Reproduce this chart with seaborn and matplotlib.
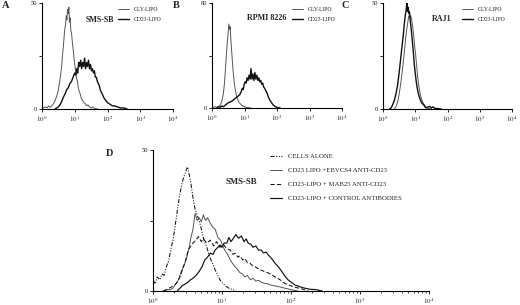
import numpy as np
import matplotlib
matplotlib.use("Agg")
import matplotlib.pyplot as plt
import seaborn as sns

sns.set_style("ticks")
plt.rcParams["font.family"] = ["serif"]
plt.rcParams["font.serif"] = ["Liberation Serif", "DejaVu Serif"]
plt.rcParams["mathtext.fontset"] = "stix"

# ---------------- data (x in log10 fluorescence decades, y = cell counts) ----------------
a_gly_x = [0.0, 0.01, 0.05, 0.1, 0.15, 0.2, 0.25, 0.3, 0.35, 0.4, 0.45, 0.5, 0.55, 0.6, 0.63, 0.66, 0.69,
           0.72, 0.74, 0.76, 0.78, 0.8, 0.82, 0.84, 0.86, 0.88, 0.9, 0.93, 0.96, 0.99, 1.02, 1.05, 1.08,
           1.11, 1.14, 1.17, 1.2, 1.24, 1.28, 1.32, 1.36, 1.4, 1.45, 1.5, 1.55, 1.6, 1.7]
a_gly_y = [12, 1, 0.5, 1, 0.5, 1.5, 0.8, 1.5, 2.5, 4, 6, 9, 14, 20, 26, 31, 37,
           40, 44, 42, 47, 45, 48, 41, 43, 37, 36, 31, 27, 22, 19, 15, 13,
           10, 8, 7, 5, 4, 3, 2.5, 1.5, 2, 1, 0.5, 1, 0.3, 0]
a_cd23_x = [0.4, 0.45, 0.5, 0.55, 0.6, 0.65, 0.7, 0.75, 0.8, 0.85, 0.9, 0.95, 1.0, 1.03, 1.06, 1.09,
            1.12, 1.15, 1.18, 1.21, 1.24, 1.27, 1.3, 1.33, 1.36, 1.39, 1.42, 1.45, 1.48, 1.51, 1.54,
            1.57, 1.6, 1.63, 1.66, 1.69, 1.72, 1.75, 1.78, 1.81, 1.84, 1.87, 1.9, 1.95, 2.0, 2.05,
            2.1, 2.15, 2.2, 2.3, 2.4, 2.5, 2.6]
a_cd23_y = [0, 0.5, 1, 2, 3.5, 5.5, 7, 9, 10, 12, 13, 15, 17, 16, 19, 17,
            22, 20, 23, 19, 22, 20, 24, 19, 22, 20, 23, 19, 21, 18, 19,
            17, 18, 15, 15, 13, 12, 11, 9, 8, 7, 6, 5, 4, 3, 2.5,
            2, 1.5, 1.5, 1, 0.5, 0.5, 0]

b_gly_x = [0.0, 0.01, 0.05, 0.1, 0.15, 0.2, 0.25, 0.3, 0.35, 0.38, 0.41, 0.44, 0.47, 0.5, 0.52, 0.54,
           0.56, 0.58, 0.6, 0.62, 0.65, 0.68, 0.71, 0.74, 0.77, 0.8, 0.84, 0.88, 0.92, 0.96, 1.0,
           1.05, 1.1, 1.2]
b_gly_y = [15, 1, 0.5, 1, 0.5, 1, 2, 5, 11, 18, 28, 40, 50, 58, 64, 60,
           62, 52, 45, 38, 28, 20, 15, 11, 8, 6, 4, 3, 2, 1.5, 1,
           0.5, 0.3, 0]
b_cd23_x = [0.15, 0.2, 0.25, 0.3, 0.35, 0.4, 0.45, 0.5, 0.55, 0.6, 0.65, 0.7, 0.75, 0.8, 0.85, 0.9,
            0.93, 0.96, 0.99, 1.02, 1.05, 1.08, 1.11, 1.14, 1.17, 1.2, 1.23, 1.26, 1.29, 1.32, 1.35,
            1.38, 1.41, 1.44, 1.47, 1.5, 1.53, 1.56, 1.59, 1.62, 1.66, 1.7, 1.74, 1.78, 1.82, 1.86,
            1.9, 1.95, 2.0, 2.1]
b_cd23_y = [0, 1, 0.5, 1.5, 1, 2, 3, 4, 4.5, 5, 6, 7, 8, 9, 10, 12.5,
            15, 14, 18, 20, 19, 23, 21, 25, 22, 30, 22, 26, 21, 27, 22,
            25, 21, 23, 20, 21, 18, 19, 16, 15, 13, 11, 8, 6, 4.5, 3,
            2, 1, 0.5, 0]

c_gly_x = [0.35, 0.4, 0.45, 0.5, 0.55, 0.6, 0.65, 0.7, 0.74, 0.77, 0.8, 0.83, 0.86, 0.89, 0.92,
           0.95, 0.98, 1.01, 1.04, 1.07, 1.1, 1.13, 1.16, 1.2, 1.24, 1.28, 1.32, 1.36, 1.4, 1.5]
c_gly_y = [0, 1, 3, 7, 12, 18, 25, 33, 38, 41, 44, 43, 44, 42, 39,
           35, 30, 26, 21, 16, 12, 9, 6.5, 4.5, 3, 2, 1.2, 0.7, 0.3, 0]
c_cd23_x = [0.2, 0.25, 0.3, 0.35, 0.4, 0.45, 0.5, 0.55, 0.6, 0.63, 0.66, 0.69, 0.72, 0.74, 0.76,
            0.78, 0.8, 0.82, 0.85, 0.88, 0.91, 0.94, 0.97, 1.0, 1.03, 1.06, 1.1, 1.14, 1.18, 1.22,
            1.26, 1.3, 1.35, 1.4, 1.45, 1.5, 1.55, 1.6, 1.7, 1.8]
c_cd23_y = [0, 0.5, 2, 4, 7, 11, 17, 24, 31, 35, 40, 44, 47, 50, 46,
            48, 45, 46, 41, 37, 32, 27, 21, 17, 13, 10, 7, 5, 3.5, 2.5,
            2, 1, 0.5, 1, 1.2, 0.5, 1, 0.3, 0.2, 0]

d_alone_x = [0.0, 0.03, 0.06, 0.1, 0.13, 0.16, 0.2, 0.23, 0.26, 0.29, 0.32, 0.35, 0.38, 0.41, 0.44,
             0.47, 0.5, 0.52, 0.55, 0.58, 0.61, 0.64, 0.68, 0.71, 0.74, 0.78, 0.81, 0.84, 0.87,
             0.9, 0.93, 0.97, 1.0, 1.05, 1.1, 1.15, 1.2]
d_alone_y = [4, 2.5, 5, 4, 6, 5.5, 9, 11, 15, 18, 23, 28, 33, 37, 40,
             42, 44, 42, 38, 33, 29, 27, 24, 21, 18, 15.5, 13, 11, 9.5,
             7.5, 6, 4, 3, 1.8, 1, 0.5, 0]
d_ebv_x = [0.15, 0.2, 0.25, 0.29, 0.33, 0.37, 0.41, 0.45, 0.49, 0.52, 0.55, 0.58, 0.61, 0.64, 0.67,
           0.7, 0.73, 0.76, 0.79, 0.83, 0.87, 0.9, 0.94, 0.98, 1.01, 1.04, 1.08, 1.12, 1.16, 1.19,
           1.23, 1.26, 1.3, 1.33, 1.37, 1.41, 1.45, 1.49, 1.53, 1.58, 1.62, 1.67, 1.72, 1.77, 1.83,
           1.91, 2.0, 2.1]
d_ebv_y = [0, 0.5, 0.5, 1, 2.5, 4, 7, 9, 12, 15, 19, 22, 27.5, 25, 26,
           24.5, 27, 25, 26, 24, 22.5, 22, 19, 18, 16, 14.5, 13, 11, 9.5, 8.6,
           7.5, 6.5, 6, 5, 5.5, 4, 4.5, 3.5, 3.8, 3, 2.7, 2.5, 2, 1.8, 1.5,
           1, 0.5, 0]
d_mab_x = [0.15, 0.2, 0.27, 0.34, 0.37, 0.4, 0.44, 0.48, 0.51, 0.55, 0.58, 0.62, 0.66, 0.7, 0.73,
           0.78, 0.83, 0.88, 0.92, 0.97, 1.02, 1.07, 1.12, 1.16, 1.19, 1.23, 1.26, 1.3, 1.33, 1.37,
           1.4, 1.44, 1.48, 1.52, 1.55, 1.59, 1.62, 1.66, 1.7, 1.77, 1.84, 1.91, 1.98, 2.06, 2.15, 2.25]
d_mab_y = [0, 0.5, 1.5, 2.7, 4, 5.5, 8.6, 11.5, 14.5, 16, 17, 18, 19.3, 17.5, 18.5,
           17, 18, 16, 17.5, 15.5, 16.5, 15, 14.5, 13, 13.4, 12, 12.5, 11, 11.5, 10,
           10, 9, 8.6, 8, 7.5, 7.2, 6.8, 6.5, 6, 5, 4, 2.7, 2, 1.3, 0.8, 0]
d_ctrl_x = [0.35, 0.39, 0.43, 0.47, 0.5, 0.54, 0.58, 0.63, 0.67, 0.71, 0.75, 0.79, 0.83, 0.87, 0.9,
            0.94, 0.97, 1.0, 1.03, 1.07, 1.1, 1.13, 1.16, 1.2, 1.24, 1.28, 1.32, 1.35, 1.38, 1.42,
            1.45, 1.49, 1.53, 1.57, 1.6, 1.64, 1.67, 1.72, 1.77, 1.82, 1.87, 1.92, 1.96, 2.01, 2.06,
            2.13, 2.2, 2.28, 2.36, 2.45]
d_ctrl_y = [0, 1, 2, 2.5, 3, 3.9, 4.5, 5.7, 7, 8.6, 11, 12, 13.4, 13, 14.5,
            15.5, 16.3, 15.5, 17, 17, 19, 17.5, 18.5, 20, 18.7, 19.5, 17.5, 18.5, 17, 16.5,
            15.5, 16, 14.5, 14.5, 13.5, 13.8, 12.8, 11.5, 9.8, 8.5, 6.8, 5, 3.9, 3, 2.1,
            1.5, 1, 0.6, 0.5, 0]

x_ticks = [0, 1, 2, 3, 4]
x_tick_labels = [r"$10^{0}$", r"$10^{1}$", r"$10^{2}$", r"$10^{3}$", r"$10^{4}$"]

panel_names = ["SMS-SB", "RPMI 8226", "RAJ1"]
pair_labels = ["GLY-LIPO", "CD23-LIPO"]
d_labels = ["CELLS ALONE", "CD23 LIPO +EBVCS4 ANTI-CD23",
            "CD23-LIPO + MAB25 ANTI-CD23", "CD23-LIPO + CONTROL ANTIBODIES"]
ymax_abc = [50, 80, 50]

# ---------------- figure ----------------
W, H = 520, 305
fig = plt.figure(figsize=(W / 100, H / 100), dpi=100)


def px_axes(x0, x1, ytop, ybot):
    return fig.add_axes([x0 / W, 1 - ybot / H, (x1 - x0) / W, (ybot - ytop) / H])


def style_axes(ax, ymax, tick_fs=5.0):
    ax.set_xscale("log")
    ax.set_xlim(1, 1e4)
    ax.set_ylim(0, ymax)
    ax.set_xticks([10.0 ** t for t in x_ticks])
    ax.set_xticklabels(x_tick_labels, fontsize=tick_fs)
    ax.xaxis.set_minor_locator(matplotlib.ticker.LogLocator(base=10, subs=np.arange(2, 10)))
    ax.xaxis.set_minor_formatter(matplotlib.ticker.NullFormatter())
    ax.set_yticks([0, ymax / 2, ymax])
    ax.set_yticklabels(["0", "", str(ymax)], fontsize=tick_fs - 0.3)
    ax.tick_params(axis="both", which="major", direction="out", length=2.2, width=0.6,
                   pad=1.5, color="black", labelcolor="#222222")
    ax.tick_params(axis="x", which="minor", direction="out", length=1.3, width=0.5, color="black")
    for s in ["top", "right"]:
        ax.spines[s].set_visible(False)
    for s in ["left", "bottom"]:
        ax.spines[s].set_linewidth(0.8)
        ax.spines[s].set_color("black")
    ax.set_xlabel("")
    ax.set_ylabel("")


def draw(ax, xs, ys, label, color, lw, ls="-"):
    sns.lineplot(x=[10.0 ** v for v in xs], y=ys, ax=ax, color=color, linewidth=lw,
                 linestyle=ls, label=label, estimator=None, sort=False)


abc = [(a_gly_x, a_gly_y, a_cd23_x, a_cd23_y),
       (b_gly_x, b_gly_y, b_cd23_x, b_cd23_y),
       (c_gly_x, c_gly_y, c_cd23_x, c_cd23_y)]
boxes = [(42, 173, 3, 109), (212, 342, 3, 108), (383, 512, 3, 109)]
name_pos = [(0.443, 0.84), (0.423, 0.855), (0.457, 0.85)]
leg_x = [0.58, 0.615, 0.612]

for i in range(3):
    ax = px_axes(*boxes[i])
    gx, gy, cx, cy = abc[i]
    draw(ax, gx, gy, pair_labels[0], "#555555", 0.7)
    draw(ax, cx, cy, pair_labels[1], "#111111", 1.0)
    style_axes(ax, ymax_abc[i])
    ax.text(*name_pos[i], panel_names[i], transform=ax.transAxes, ha="center", va="center",
            fontsize=5.8, fontweight="bold")
    ax.legend(loc="upper left", bbox_to_anchor=(leg_x[i], 0.965), frameon=False,
              fontsize=4.1, handlelength=1.9, handletextpad=0.9, labelspacing=0.9,
              borderpad=0, borderaxespad=0)

axd = px_axes(153, 429, 150, 291)
draw(axd, d_alone_x, d_alone_y, d_labels[0], "#111111", 0.75, (0, (4, 1.5, 1, 1.5, 1, 1.5)))
draw(axd, d_ebv_x, d_ebv_y, d_labels[1], "#555555", 0.7)
draw(axd, d_mab_x, d_mab_y, d_labels[2], "#111111", 0.75, (0, (4, 2.2)))
draw(axd, d_ctrl_x, d_ctrl_y, d_labels[3], "#111111", 0.85)
style_axes(axd, 50)
axd.text(0.319, 0.773, "SMS-SB", transform=axd.transAxes, ha="center", va="center",
         fontsize=6.3, fontweight="bold")
axd.legend(loc="upper left", bbox_to_anchor=(0.424, 0.975), frameon=False,
           fontsize=4.9, handlelength=1.8, handletextpad=0.8, labelspacing=1.2,
           borderpad=0, borderaxespad=0)

for letter, (lx, ly) in zip("ABCD", [(6, 6), (176, 6), (345, 6), (110, 153)]):
    fig.text(lx / W, 1 - ly / H, letter, ha="center", va="center", fontsize=7.5,
             fontweight="bold")

fig.savefig("out.png", dpi=100)
